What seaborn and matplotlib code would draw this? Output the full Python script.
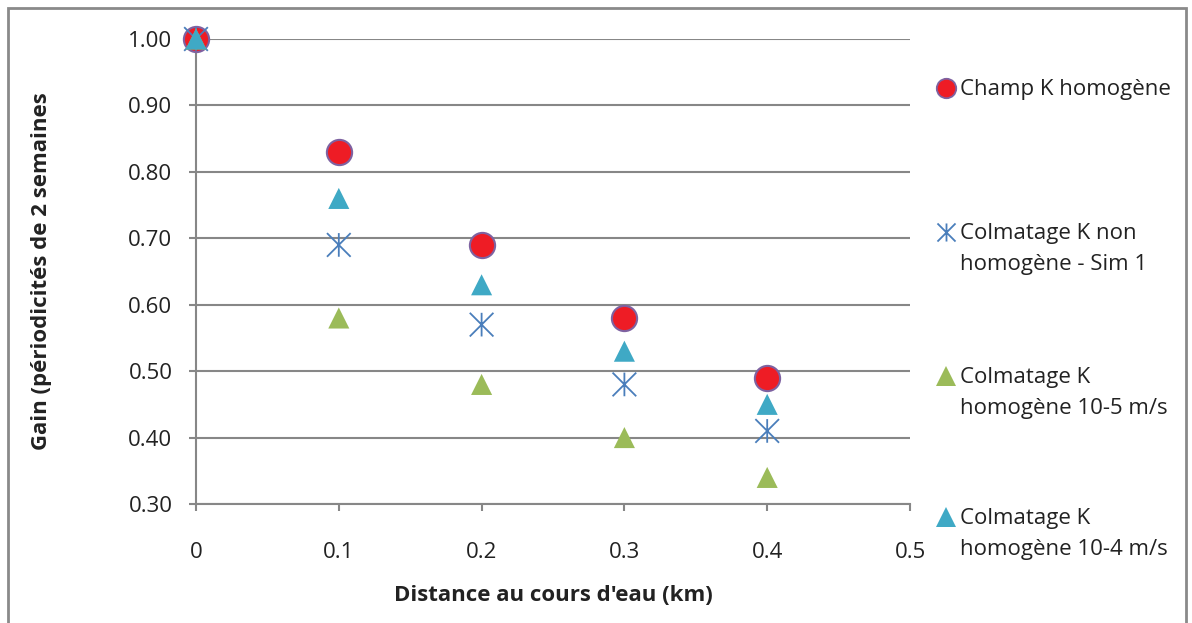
import matplotlib.pyplot as plt
import seaborn as sns
import pandas as pd
from matplotlib.path import Path
from matplotlib.lines import Line2D
from matplotlib.patches import Rectangle

# values
distance = [0, 0.1, 0.2, 0.3, 0.4]
champ_homogene = [1.00, 0.83, 0.69, 0.58, 0.49]
colmatage_sim1 = [1.00, 0.69, 0.57, 0.48, 0.41]
colmatage_1e5 = [1.00, 0.58, 0.48, 0.40, 0.34]
colmatage_1e4 = [1.00, 0.76, 0.63, 0.53, 0.45]

labels = ["Champ K homogène",
          "Colmatage K non\nhomogène - Sim 1",
          "Colmatage K\nhomogène 10-5 m/s",
          "Colmatage K\nhomogène 10-4 m/s"]
y_ticks = [0.30, 0.40, 0.50, 0.60, 0.70, 0.80, 0.90, 1.00]
x_ticks = [0, 0.1, 0.2, 0.3, 0.4, 0.5]

sns.set_style("white")
plt.rcParams['font.family'] = ['Open Sans', 'DejaVu Sans']

# asterisk like Excel: vertical bar plus an X
star = Path([(0, -1), (0, 1), (-1, -1), (1, 1), (-1, 1), (1, -1)],
            [Path.MOVETO, Path.LINETO, Path.MOVETO, Path.LINETO, Path.MOVETO, Path.LINETO])

red, purple, blue, green, cyan = "#EE1C25", "#7E62A1", "#4A7EBB", "#9BBB59", "#3FA9C5"
grid_col = "#878787"
txt_col = "#222222"
fs = 16

df = pd.DataFrame({"x": distance, "champ": champ_homogene, "sim1": colmatage_sim1,
                   "k5": colmatage_1e5, "k4": colmatage_1e4})

fig = plt.figure(figsize=(11.92, 6.23), dpi=100)
ax = fig.add_axes([196 / 1192, 1 - 504 / 623, (910 - 196) / 1192, (504 - 39) / 623])

styles = [
    ("champ", dict(marker="o", s=330, color=red, edgecolor=purple, linewidth=1.5)),
    ("sim1", dict(marker=star, s=290, color=blue, edgecolor=blue, facecolor="none", linewidth=1.3)),
    ("k5", dict(marker="^", s=230, color=green, edgecolor="none", linewidth=0)),
    ("k4", dict(marker="^", s=230, color=cyan, edgecolor="none", linewidth=0)),
]
for i, (col, kw) in enumerate(styles):
    sns.scatterplot(data=df, x="x", y=col, ax=ax, legend=False, zorder=3 + i, clip_on=False, **kw)

ax.set_xlim(0, 0.5)
ax.set_ylim(0.30, 1.00)
ax.set_xticks(x_ticks)
ax.set_xticklabels(["0", "0.1", "0.2", "0.3", "0.4", "0.5"])
ax.set_yticks(y_ticks)
ax.set_yticklabels([f"{v:.2f}" for v in y_ticks])
ax.yaxis.grid(True, color=grid_col, linewidth=1.5)
ax.xaxis.grid(False)
for side in ["top", "right"]:
    ax.spines[side].set_visible(False)
for side in ["left", "bottom"]:
    ax.spines[side].set_color(grid_col)
    ax.spines[side].set_linewidth(1.5)
ax.tick_params(axis="both", which="both", length=5, width=1.5, color=grid_col,
               labelsize=fs, labelcolor=txt_col)
ax.tick_params(axis="x", direction="out", bottom=True, pad=22)
ax.tick_params(axis="y", direction="out", left=True, pad=12)

ax.set_xlabel("Distance au cours d'eau (km)", fontsize=fs, fontweight="bold",
              color=txt_col, labelpad=16)
ax.set_ylabel("Gain (périodicités de 2 semaines", fontsize=fs, fontweight="bold",
              color=txt_col, labelpad=55)

# legend on the right, markers aligned with the first line of each label
leg_y = [88, 232, 376, 517]
for (col, kw), lab, yy in zip(styles, labels, leg_y):
    yf = 1 - yy / 623
    if col == "sim1":
        h = Line2D([946 / 1192], [yf], marker=star, markersize=13, color="none",
                   markeredgecolor=blue, markeredgewidth=1.3, transform=fig.transFigure)
    elif col == "champ":
        h = Line2D([946 / 1192], [yf], marker="o", markersize=14, color="none",
                   markerfacecolor=red, markeredgecolor=purple, markeredgewidth=1.3,
                   transform=fig.transFigure)
    else:
        h = Line2D([946 / 1192], [yf], marker="^", markersize=14, color="none",
                   markerfacecolor=kw["color"], markeredgewidth=0, transform=fig.transFigure)
    fig.add_artist(h)
    fig.text(960 / 1192, yf + 9 / 623, lab, fontsize=fs, color=txt_col, va="top",
             linespacing=1.6)

fig.add_artist(Rectangle((8 / 1192, -0.02), (1186 - 8) / 1192, 1.02 - 8 / 623,
                         transform=fig.transFigure, fill=False, edgecolor="#8A8A8A",
                         linewidth=2, clip_on=False))

fig.savefig("out.png", dpi=100)
